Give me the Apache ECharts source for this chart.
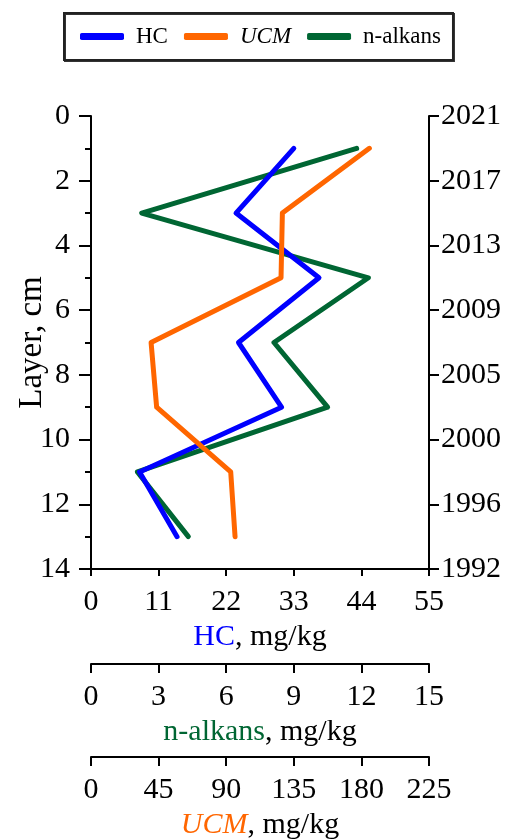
<!DOCTYPE html>
<html>
<head>
<meta charset="utf-8">
<script src="https://cdn.jsdelivr.net/npm/echarts@6/dist/echarts.min.js"></script>
<style>html,body{margin:0;padding:0;background:#fff;}#c{width:508px;height:839px;}</style>
</head>
<body>
<div id="c"></div>
<script>
// Depth of each layer midpoint (cm)
const depths = [1, 3, 5, 7, 9, 11, 13];
// HC, mg/kg
const hcValues = [33.0, 23.6, 37.1, 24.0, 31.0, 7.9, 14.0];
// UCM, mg/kg
const ucmValues = [185.3, 127.4, 126.5, 40.0, 43.7, 93.0, 95.9];
// n-alkans, mg/kg
const alkValues = [11.79, 2.25, 12.31, 8.12, 10.5, 2.06, 4.32];
// Right axis year labels (for depth 0,2,...,14)
const yearLabels = ['2021', '2017', '2013', '2009', '2005', '2000', '1996', '1992'];

const FONT = 'Liberation Serif';
const pair = (vals) => vals.map((v, i) => [v, depths[i]]);

const chart = echarts.init(document.getElementById('c'), null, {renderer: 'canvas'});

const baseX = (min, max, interval, offset, name, rich, tickLen) => ({
  type: 'value', position: 'bottom', gridIndex: 0,
  min: min, max: max, interval: interval, offset: offset,
  axisLine: {show: true, onZero: false, lineStyle: {color: '#000', width: 2}},
  axisTick: {show: true, inside: false, length: tickLen, lineStyle: {color: '#000', width: 2}},
  splitLine: {show: false},
  axisLabel: {show: true, margin: 18, fontSize: 30, color: '#000', fontFamily: FONT},
  name: name, nameLocation: 'middle', nameGap: 50,
  nameTextStyle: {fontSize: 30, color: '#000', fontFamily: FONT, rich: rich}
});

const option = {
  backgroundColor: '#fff',
  animation: false,
  grid: {left: 91, right: 79, top: 116, bottom: 270, containLabel: false, outerBoundsMode: 'none'},
  legend: {
    show: true,
    left: 64, top: 13,
    padding: [12, 12, 12, 16],
    borderColor: '#222', borderWidth: 2,
    shadowColor: 'rgba(0,0,0,0.8)', shadowOffsetX: 1, shadowOffsetY: 1, shadowBlur: 0,
    backgroundColor: '#fff',
    itemGap: 16,
    itemWidth: 44, itemHeight: 7,
    icon: 'roundRect',
    textStyle: {fontSize: 23, color: '#000', fontFamily: FONT, padding: [0, 0, 0, 7]},
    data: [
      {name: 'HC'},
      {name: 'UCM', textStyle: {fontStyle: 'italic'}},
      {name: 'n-alkans'}
    ]
  },
  xAxis: [
    baseX(0, 55, 11, 0, '{a|HC}, mg/kg', {a: {color: '#0000ff', fontSize: 30, fontFamily: FONT}}, 7),
    baseX(0, 15, 3, 95, '{a|n-alkans}, mg/kg', {a: {color: '#006633', fontSize: 30, fontFamily: FONT}}, 9),
    baseX(0, 225, 45, 188, '{a|UCM}, mg/kg', {a: {color: '#ff6600', fontSize: 30, fontStyle: 'italic', fontFamily: FONT}}, 9)
  ],
  yAxis: [
    {
      type: 'value', position: 'left', inverse: true, min: 0, max: 14, interval: 2,
      axisLine: {show: true, onZero: false, lineStyle: {color: '#000', width: 2}},
      axisTick: {show: true, inside: false, length: 12, lineStyle: {color: '#000', width: 2}},
      minorTick: {show: true, splitNumber: 2, length: 6, lineStyle: {color: '#000', width: 2}},
      splitLine: {show: false},
      axisLabel: {margin: 21, fontSize: 30, color: '#000', fontFamily: FONT},
      name: 'Layer, cm', nameLocation: 'middle', nameRotate: 90, nameGap: 42,
      nameMoveOverlap: false,
      nameTextStyle: {fontSize: 33, color: '#000', fontFamily: FONT}
    },
    {
      type: 'value', position: 'right', inverse: true, min: 0, max: 14, interval: 2,
      axisLine: {show: true, onZero: false, lineStyle: {color: '#000', width: 2}},
      axisTick: {show: true, inside: false, length: 10, lineStyle: {color: '#000', width: 2}},
      splitLine: {show: false},
      axisLabel: {margin: 12, fontSize: 30, color: '#000', fontFamily: FONT,
        formatter: (v) => yearLabels[Math.round(v / 2)]}
    },
    {
      type: 'value', position: 'right', inverse: true, min: 0, max: 14, interval: 2,
      axisLine: {show: false},
      axisTick: {show: true, inside: true, length: 10, lineStyle: {color: '#000', width: 2}},
      splitLine: {show: false},
      axisLabel: {show: false}
    }
  ],
  series: [
    {
      name: 'n-alkans', type: 'line', xAxisIndex: 1, yAxisIndex: 0,
      data: pair(alkValues), showSymbol: false, symbol: 'none',
      color: '#006633',
      lineStyle: {color: '#006633', width: 5, cap: 'round', join: 'round'}, z: 2
    },
    {
      name: 'HC', type: 'line', xAxisIndex: 0, yAxisIndex: 0,
      data: pair(hcValues), showSymbol: false, symbol: 'none',
      color: '#0000ff',
      lineStyle: {color: '#0000ff', width: 5, cap: 'round', join: 'round'}, z: 3
    },
    {
      name: 'UCM', type: 'line', xAxisIndex: 2, yAxisIndex: 0,
      data: pair(ucmValues), showSymbol: false, symbol: 'none',
      color: '#ff6600',
      lineStyle: {color: '#ff6600', width: 5, cap: 'round', join: 'round'}, z: 4
    }
  ]
};
chart.setOption(option);
</script>
</body>
</html>
